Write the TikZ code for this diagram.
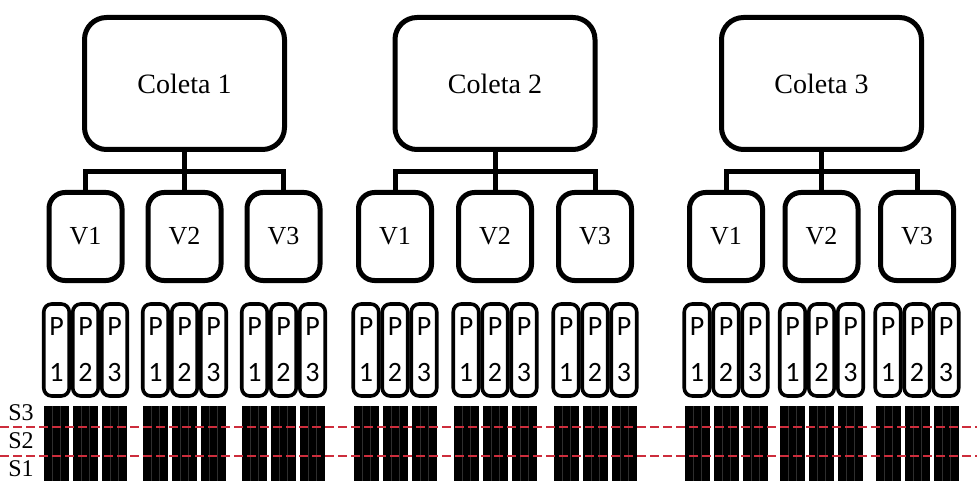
\documentclass[tikz,border=0pt]{standalone}
\usepackage{fontspec}
\setmainfont{Liberation Serif}
\newfontfamily\pfont{Carlito}
\usetikzlibrary{trees,calc}
\definecolor{sred}{RGB}{205,45,60}

\begin{document}
\begin{tikzpicture}
		[x=1pt,y=1pt,
		coleta/.style={draw, line width=5pt, rounded corners=22pt,
			minimum width=200pt, minimum height=132pt, inner sep=0pt,
			font=\fontsize{28}{30}\selectfont},
		vbox/.style={draw, line width=5pt, rounded corners=16pt,
			minimum width=73pt, minimum height=88pt, inner sep=0pt,
			font=\fontsize{26}{28}\selectfont},
		pbox/.style={draw, line width=3.6pt, rounded corners=8pt,
			minimum width=25.5pt, minimum height=92pt, inner sep=0pt,
			align=center, font=\pfont\fontsize{28}{46}\selectfont},
		slabel/.style={inner sep=0pt, font=\fontsize{24}{26}\selectfont},
		sline/.style={sred, line width=2.5pt, dash pattern=on 9pt off 4pt},
		barstripe/.style={black!82, line width=.7pt},
		level 1/.style={level distance=153pt},
		level 2/.style={level distance=113.5pt,
			sibling distance=29pt,
			edge from parent/.style={draw=none}},
		edge from parent/.style={draw, line width=5pt},
		edge from parent path={(\tikzparentnode.south) -- ++(0pt,-20pt) -| (\tikzchildnode.north)}]
		\useasboundingbox (0,0) rectangle (977,-481);
		
		\node[coleta] (c1) at (184.5,-83.5) {Coleta 1} [sibling distance=99pt]
		child {node[vbox] {V1}
			child foreach \p in {1,2,3} {node[pbox] {P\\\p}}
		}
		child {node[vbox] {V2}
			child foreach \p in {1,2,3} {node[pbox] {P\\\p}}
		}
		child {node[vbox] {V3}
			child foreach \p in {1,2,3} {node[pbox] {P\\\p}}
		}
		;
		\node[coleta] (c2) at (495,-83.5) {Coleta 2} [sibling distance=100pt]
		child {node[vbox] {V1}
			child foreach \p in {1,2,3} {node[pbox] {P\\\p}}
		}
		child {node[vbox] {V2}
			child foreach \p in {1,2,3} {node[pbox] {P\\\p}}
		}
		child {node[vbox] {V3}
			child foreach \p in {1,2,3} {node[pbox] {P\\\p}}
		}
		;
		\node[coleta] (c3) at (821.5,-83.5) {Coleta 3} [sibling distance=95.5pt]
		child {node[vbox] {V1}
			child foreach \p in {1,2,3} {node[pbox] {P\\\p}}
		}
		child {node[vbox] {V2}
			child foreach \p in {1,2,3} {node[pbox] {P\\\p}}
		}
		child {node[vbox] {V3}
			child foreach \p in {1,2,3} {node[pbox] {P\\\p}}
		}
		;
		
		% black bars below each P
		\foreach \c in {1,2,3}
		\foreach \v in {1,2,3}
		\foreach \p in {1,2,3} {
			\fill ($(c\c-\v-\p.south)+(-12.5,-8)$) rectangle ($(c\c-\v-\p.south)+(12.5,-86)$);
			\draw[barstripe] ($(c\c-\v-\p.south)+(-4,-8)$) -- ++(0,-78);
			\draw[barstripe] ($(c\c-\v-\p.south)+(4,-8)$) -- ++(0,-78);
		}
		
		\draw[sline] (0,-427) -- (977,-427);
		\draw[sline] (0,-456) -- (977,-456);
		\node[slabel] (s3) at (21,-413) {S3};
		\node[slabel] (s2) at (21,-441) {S2};
		\node[slabel] (s1) at (21,-469) {S1};
	\end{tikzpicture}
\end{document}
